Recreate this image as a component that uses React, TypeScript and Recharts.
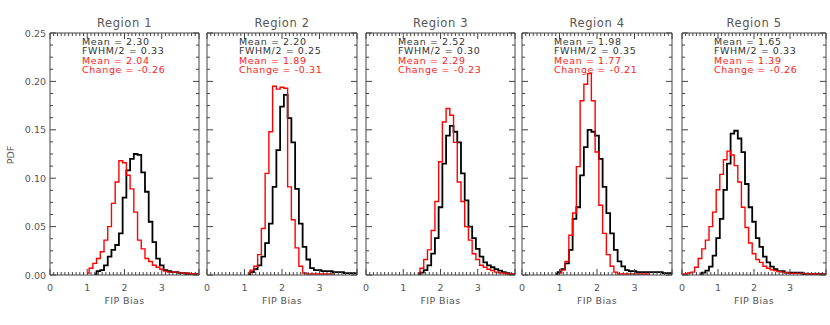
import { LineChart, Line, XAxis, YAxis } from "recharts";

// bin centres of the FIP bias histograms
const binCenters = [
  0, 0.1, 0.2, 0.3, 0.4, 0.5, 0.6, 0.7, 0.8, 0.9,
  1, 1.1, 1.2, 1.3, 1.4, 1.5, 1.6, 1.7, 1.8, 1.9,
  2, 2.1, 2.2, 2.3, 2.4, 2.5, 2.6, 2.7, 2.8, 2.9,
  3, 3.1, 3.2, 3.3, 3.4, 3.5, 3.6, 3.7, 3.8, 3.9, 4,
];

const regions = ["Region 1", "Region 2", "Region 3", "Region 4", "Region 5"];
const meanBlack = ["2.30", "2.20", "2.52", "1.98", "1.65"];
const fwhmHalf = ["0.33", "0.25", "0.30", "0.35", "0.33"];
const meanRed = ["2.04", "1.89", "2.29", "1.77", "1.39"];
const change = ["-0.26", "-0.31", "-0.23", "-0.21", "-0.26"];

const xTickLabels = ["0", "1", "2", "3"];
const yTickLabels = ["0.00", "0.05", "0.10", "0.15", "0.20", "0.25"];

const n = null;

const black1 = [
  n, n, n, n, n, n, n, n, n, n,
  n, n, 0.001, 0.004, 0.005, 0.010, 0.019, 0.026, 0.031, 0.043,
  0.080, 0.108, 0.120, 0.125, 0.124, 0.106, 0.086, 0.055, 0.034, 0.017,
  0.010, 0.005, 0.004, 0.003, 0.003, 0.002, 0.002, 0.001, 0.001, 0.001, 0.001,
];
const red1 = [
  n, n, n, n, n, n, n, n, n, n,
  0.002, 0.007, 0.012, 0.017, 0.024, 0.036, 0.050, 0.074, 0.096, 0.118,
  0.116, 0.103, 0.089, 0.065, 0.036, 0.027, 0.017, 0.014, 0.010, 0.008,
  0.006, 0.004, 0.003, 0.003, 0.003, 0.002, 0.002, 0.002, 0.001, 0.001, 0.001,
];

const black2 = [
  n, n, n, n, n, n, n, n, n, n,
  n, 0.001, 0.003, 0.006, 0.010, 0.019, 0.033, 0.053, 0.091, 0.129,
  0.174, 0.186, 0.162, 0.137, 0.089, 0.053, 0.029, 0.016, 0.007, 0.005,
  0.005, 0.004, 0.004, 0.004, 0.003, 0.003, 0.003, 0.002, 0.002, 0.002, 0.002,
];
const red2 = [
  n, n, n, n, n, n, n, n, n, n,
  n, 0.002, 0.005, 0.009, 0.021, 0.048, 0.105, 0.148, 0.195, 0.192,
  0.194, 0.193, 0.091, 0.057, 0.028, 0.009, 0.002, 0.001, 0.001, 0.001,
  0.001, 0.001, 0.001, 0.001, 0.001, n, n, n, n, n, n,
];

const black3 = [
  n, n, n, n, n, n, n, n, n, n,
  n, n, n, n, 0.001, 0.0024, 0.005, 0.010, 0.022, 0.038,
  0.070, 0.115, 0.144, 0.154, 0.148, 0.137, 0.105, 0.077, 0.050, 0.038,
  0.027, 0.019, 0.013, 0.010, 0.008, 0.006, 0.0045, 0.003, 0.002, 0.001, 0.001,
];
const red3 = [
  n, n, n, n, n, n, n, n, n, n,
  n, n, n, n, 0.002, 0.007, 0.016, 0.026, 0.046, 0.076,
  0.117, 0.158, 0.172, 0.165, 0.137, 0.096, 0.076, 0.050, 0.036, 0.022,
  0.016, 0.010, 0.008, 0.006, 0.0045, 0.003, 0.0024, 0.002, 0.001, 0.001, 0.001,
];

const black4 = [
  n, n, n, n, n, n, n, n, n, 0.001,
  0.003, 0.006, 0.012, 0.026, 0.058, 0.070, 0.103, 0.132, 0.150, 0.148,
  0.144, 0.120, 0.091, 0.064, 0.043, 0.026, 0.014, 0.009, 0.005, 0.004,
  0.004, 0.003, 0.003, 0.003, 0.003, 0.003, 0.003, 0.003, 0.002, 0.002, 0.002,
];
const red4 = [
  n, n, n, n, n, n, n, n, n, n,
  0.002, 0.005, 0.014, 0.041, 0.064, 0.112, 0.180, 0.197, 0.208, 0.180,
  0.127, 0.072, 0.043, 0.021, 0.009, 0.003, 0.001, 0.001, 0.001, 0.001,
  0.001, 0.001, 0.001, 0.001, 0.001, n, n, n, n, n, n,
];

const black5 = [
  n, n, n, n, n, 0.001, 0.0024, 0.0045, 0.0086, 0.020,
  0.038, 0.058, 0.088, 0.115, 0.146, 0.149, 0.141, 0.127, 0.094, 0.070,
  0.055, 0.038, 0.029, 0.019, 0.013, 0.0086, 0.006, 0.004, 0.004, 0.0024,
  0.0024, 0.0024, 0.0024, 0.0024, 0.001, 0.001, 0.001, 0.001, 0.001, 0.001, 0.001,
];
const red5 = [
  0.0005, 0.001, 0.002, 0.003, 0.008, 0.017, 0.027, 0.036, 0.050, 0.065,
  0.088, 0.104, 0.119, 0.128, 0.124, 0.113, 0.096, 0.070, 0.049, 0.033,
  0.022, 0.016, 0.013, 0.009, 0.007, 0.0055, 0.0045, 0.0035, 0.003, 0.0025,
  0.0017, 0.0017, 0.0017, 0.0017, 0.0017, 0.001, 0.001, 0.001, 0.001, 0.001, 0.001,
];

const blackSeries = [black1, black2, black3, black4, black5];
const redSeries = [red1, red2, red3, red4, red5];

// layout of the five boxes on the page
const W = 830;
const H = 325;
const TOP = 33;
const BOTTOM = 275;
const lefts = [50, 207, 366, 522, 682];
const rights = [199, 357, 515, 672, 826];

const FONT = "DejaVu Sans, Liberation Sans, sans-serif";
const AXIS = "#444";
const LABEL = "#555";

const xTicks = Array.from({ length: 41 }, (_, k) => k / 10);
const yTicks = Array.from({ length: 21 }, (_, k) => k * 0.0125);

const isInt = (v: number) => Math.abs(v - Math.round(v)) < 1e-6;
const isMajorY = (v: number) => Math.abs(v / 0.05 - Math.round(v / 0.05)) < 1e-6;

function Panel({ idx }: { idx: number }) {
  const L = lefts[idx];
  const R = rights[idx];
  const data = binCenters.map((x, i) => ({
    x,
    black: blackSeries[idx][i],
    red: redSeries[idx][i],
  }));

  const bottomTick = (p: any) => {
    const v = p.payload.value;
    const major = isInt(v);
    const label = major ? xTickLabels.indexOf(String(Math.round(v))) : -1;
    return (
      <g>
        <line x1={p.x} x2={p.x} y1={BOTTOM} y2={BOTTOM - (major ? 6 : 3)} stroke={AXIS} strokeWidth={1} />
        {label >= 0 && (
          <text x={p.x} y={BOTTOM + 12} textAnchor="middle" dominantBaseline="central" fontSize={9.5} fontFamily={FONT} fill={LABEL}>
            {xTickLabels[label]}
          </text>
        )}
      </g>
    );
  };
  const topTick = (p: any) => {
    const major = isInt(p.payload.value);
    return <line x1={p.x} x2={p.x} y1={TOP} y2={TOP + (major ? 6 : 3)} stroke={AXIS} strokeWidth={1} />;
  };
  const leftTick = (p: any) => {
    const v = p.payload.value;
    const major = isMajorY(v);
    return (
      <g>
        <line x1={L} x2={L + (major ? 6 : 3)} y1={p.y} y2={p.y} stroke={AXIS} strokeWidth={1} />
        {idx === 0 && major && (
          <text x={L - 4} y={p.y} textAnchor="end" dominantBaseline="central" fontSize={9.5} fontFamily={FONT} fill={LABEL}>
            {yTickLabels[Math.round(v / 0.05)]}
          </text>
        )}
      </g>
    );
  };
  const rightTick = (p: any) => {
    const major = isMajorY(p.payload.value);
    return <line x1={R} x2={R - (major ? 6 : 3)} y1={p.y} y2={p.y} stroke={AXIS} strokeWidth={1} />;
  };

  return (
    <div style={{ position: "absolute", left: 0, top: 0 }}>
      <LineChart width={W} height={H} data={data} margin={{ top: TOP - 1, right: W - R - 1, bottom: H - BOTTOM - 1, left: L - 1 }}>
        <XAxis dataKey="x" type="number" domain={[0, 4]} ticks={xTicks} interval={0} height={1} tickLine={false} tick={bottomTick} axisLine={{ stroke: AXIS }} allowDataOverflow />
        <XAxis xAxisId="t" orientation="top" dataKey="x" type="number" domain={[0, 4]} ticks={xTicks} interval={0} height={1} tickLine={false} tick={topTick} axisLine={{ stroke: AXIS }} allowDataOverflow />
        <YAxis type="number" domain={[0, 0.25]} ticks={yTicks} interval={0} width={1} tickLine={false} tick={leftTick} axisLine={{ stroke: AXIS }} allowDataOverflow />
        <YAxis yAxisId="r" orientation="right" type="number" domain={[0, 0.25]} ticks={yTicks} interval={0} width={1} tickLine={false} tick={rightTick} axisLine={{ stroke: AXIS }} allowDataOverflow />
        <Line type="step" dataKey="black" stroke="#000" strokeWidth={1.8} dot={false} isAnimationActive={false} connectNulls={false} />
        <Line type="step" dataKey="red" stroke="#ff0000" strokeWidth={1.4} dot={false} isAnimationActive={false} connectNulls={false} />
      </LineChart>
    </div>
  );
}

export default function App() {
  const ann = { fontSize: 9.5, letterSpacing: 0.6 };
  return (
    <div style={{ position: "absolute", left: 0, top: 0, width: W, height: H, background: "#fff" }}>
      {regions.map((_, i) => (
        <Panel key={i} idx={i} />
      ))}
      <svg width={W} height={H} style={{ position: "absolute", left: 0, top: 0, pointerEvents: "none" }} fontFamily={FONT}>
        {regions.map((r, i) => {
          const L = lefts[i];
          const cx = (L + rights[i]) / 2;
          return (
            <g key={r}>
              <text x={cx} y={23} textAnchor="middle" dominantBaseline="central" fontSize={11.5} letterSpacing={0.6} fill="#555">{r}</text>
              <text x={L + 32} y={41} dominantBaseline="central" {...ann} fill="#333">{`Mean = ${meanBlack[i]}`}</text>
              <text x={L + 32} y={50.6} dominantBaseline="central" {...ann} fill="#333">{`FWHM/2 = ${fwhmHalf[i]}`}</text>
              <text x={L + 32} y={60.2} dominantBaseline="central" {...ann} fill="#ff2020">{`Mean = ${meanRed[i]}`}</text>
              <text x={L + 32} y={69.8} dominantBaseline="central" {...ann} fill="#ff2020">{`Change = ${change[i]}`}</text>
              <text x={cx} y={300} textAnchor="middle" dominantBaseline="central" fontSize={9.5} letterSpacing={0.4} fill={LABEL}>FIP Bias</text>
            </g>
          );
        })}
        <text x={10} y={155} transform="rotate(-90 10 155)" textAnchor="middle" dominantBaseline="central" fontSize={9.5} fill={LABEL}>PDF</text>
      </svg>
    </div>
  );
}
